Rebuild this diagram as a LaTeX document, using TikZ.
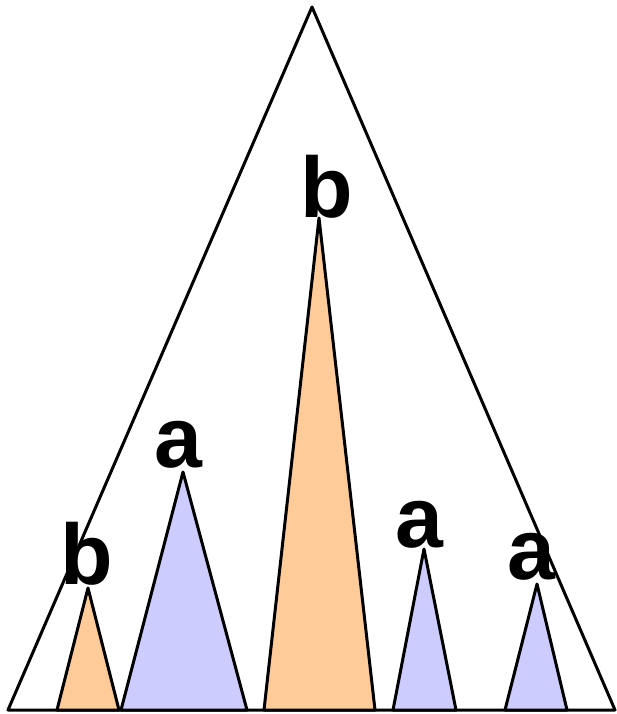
\documentclass[tikz,border=0pt]{standalone}
\usepackage{fontspec}
\setmainfont{Liberation Sans}
\usepackage{tikz}
\definecolor{peach}{RGB}{255,204,153}
\definecolor{lilac}{RGB}{204,204,255}
\begin{document}
\begin{tikzpicture}[
  x=1pt, y=-1pt,
  tri/.style={draw=black, line width=3pt, line join=round},
  big/.style={tri, fill=white},
  orng/.style={tri, fill=peach},
  blu/.style={tri, fill=lilac},
  lbl/.style={font=\bfseries\fontsize{86}{86}\selectfont, anchor=base, inner sep=0pt}
]
\useasboundingbox (0,0) rectangle (617,714);
% enclosing tree
\draw[big] (312,7) -- (8,710) -- (615,710) -- cycle;
% subtrees: apex x/apex y/left/right/style
\foreach \ax/\ay/\l/\r/\s in {88/588/57/119/orng, 183/472/121/247/blu, 319/218/264/375/orng,
                              424/549/393/456/blu, 537/584/505/567/blu}
  \draw[\s] (\ax,\ay) -- (\l,710) -- (\r,710) -- cycle;
% labels
\node[lbl] (b1) at (86.5,584) {b};
\node[lbl] (a1) at (178.5,467) {a};
\node[lbl] (b2) at (326.5,217) {b};
\node[lbl] (a2) at (419,547) {a};
\node[lbl] (a3) at (531.5,579) {a};
\end{tikzpicture}
\end{document}
